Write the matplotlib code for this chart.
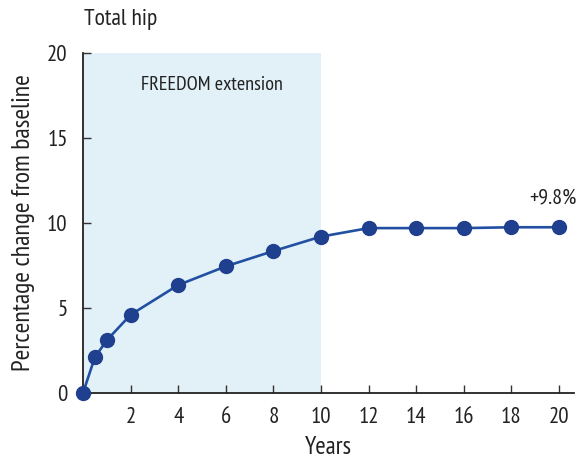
import matplotlib
matplotlib.use("Agg")
import matplotlib.pyplot as plt
from matplotlib import font_manager

years = [0, 0.5, 1, 2, 4, 6, 8, 10, 12, 14, 16, 18, 20]
pct_change = [0, 2.1, 3.1, 4.6, 6.35, 7.45, 8.35, 9.2, 9.7, 9.7, 9.7, 9.75, 9.75]
x_ticks = [2, 4, 6, 8, 10, 12, 14, 16, 18, 20]
y_ticks = [0, 5, 10, 15, 20]
extension_span = [0, 10]

# prefer a condensed sans face if one is installed
cond = None
for f in font_manager.fontManager.ttflist:
    fn = f.fname.lower()
    nm = f.name.lower()
    if ('condensed' in fn or 'narrow' in fn) and 'sans' in nm and 'serif' not in nm \
            and 'mono' not in nm and f.weight in (400, 'normal', 'regular') \
            and f.style == 'normal':
        if cond is None or 'narrow' in fn:
            cond = f
if cond is not None:
    plt.rcParams['font.family'] = [cond.name, 'DejaVu Sans']
    plt.rcParams['font.stretch'] = cond.stretch
else:
    plt.rcParams['font.family'] = ['Liberation Sans', 'DejaVu Sans']

fig = plt.figure(figsize=(5.77, 4.63), dpi=100)
ax = fig.add_axes([0.1438, 0.1512, 0.851, 0.7343])

ax.axvspan(extension_span[0], extension_span[1], color='#e2f0f7', zorder=0, lw=0)
ax.plot(years, pct_change, color='#2150a3', lw=1.9, marker='o', markersize=10,
        markerfacecolor='#1f3f8f', markeredgecolor='#1f3f8f', zorder=3, clip_on=False)

ax.set_xlim(0, 20.63)
ax.set_ylim(0, 20)
ax.set_xticks(x_ticks)
ax.set_yticks(y_ticks)
ax.tick_params(direction='in', length=6, width=1, color='#333333', labelsize=16.5, labelcolor='#222222')
ax.tick_params(axis='x', pad=10)
ax.tick_params(axis='y', pad=11)
for s in ['top', 'right']:
    ax.spines[s].set_visible(False)
for s in ['left', 'bottom']:
    ax.spines[s].set_linewidth(1.3)
    ax.spines[s].set_color('#222222')

ax.set_xlabel('Years', fontsize=18, color='#222222', labelpad=6)
ax.set_ylabel('Percentage change from baseline', fontsize=18.5, color='#222222', labelpad=9)
ax.text(5.4, 18.1, 'FREEDOM extension', ha='center', va='center', fontsize=14.5, color='#222222')
ax.annotate('+9.8%', xy=(577 / 577, 1 - 198 / 463), xycoords='figure fraction',
            ha='right', va='center', fontsize=16, color='#222222')
fig.text(84 / 577, 1 - 20 / 463, 'Total hip', ha='left', va='center', fontsize=17, color='#222222')

fig.savefig('out.png', dpi=100)
